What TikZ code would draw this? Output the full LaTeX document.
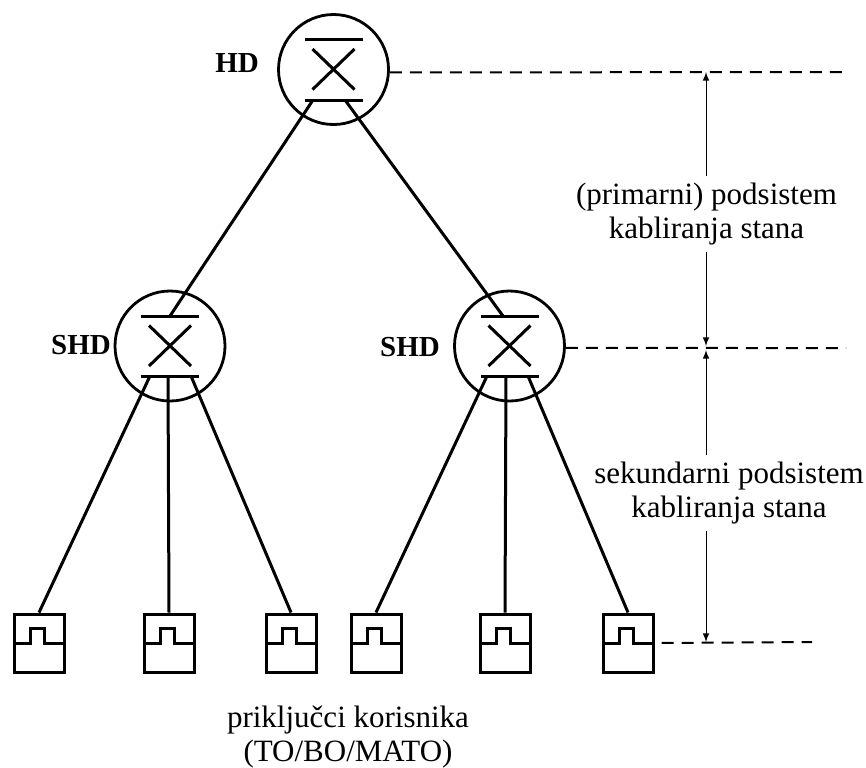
\documentclass[tikz,border=0pt]{standalone}
\usepackage{fontspec}
\setmainfont{Liberation Serif}
\begin{document}
\begin{tikzpicture}
                        [x=0.5pt,y=-0.5pt,>=latex,
                        hub/.style={circle,draw,line width=1.4pt,inner sep=0pt,minimum size=55pt},
                        socket/.style={rectangle,draw,line width=1.5pt,inner sep=0pt,minimum width=25pt,minimum height=29pt},
                        wire/.style={line width=1.5pt},
                        level/.style={dashed,dash pattern=on 6pt off 4pt,line width=1pt},
                        dim/.style={->,line width=0.5pt},
                        hubname/.style={font=\fontsize{14.5}{16}\selectfont\bfseries},
                        caption/.style={align=center,font=\fontsize{15.5}{17}\selectfont}]
                        \useasboundingbox (0,0) rectangle (866,767);
                        \node[hub] (hd) at (333.5,69.5) {};
                        \node[hub] (shda) at (170,346) {};
                        \node[hub] (shdb) at (509.5,346) {};
                        \node[socket] (s1) at (39,643) {};
                        \node[socket] (s2) at (169,643) {};
                        \node[socket] (s3) at (291,643) {};
                        \node[socket] (s4) at (376,643) {};
                        \node[socket] (s5) at (505,643) {};
                        \node[socket] (s6) at (628,643) {};
                        \node[hubname] (hdname) at (237,63) {HD};
                        \node[hubname] (shdaname) at (81,345) {SHD};
                        \node[hubname] (shdbname) at (410,347) {SHD};
                        \node[caption] (prim) at (706.5,214) {(primarni) podsistem\\kabliranja stana};
                        \node[caption] (sek) at (729,493) {sekundarni podsistem\\kabliranja stana};
                        \node[caption] (users) at (348,736.5) {priključci korisnika\\(TO/BO/MATO)};
                        % cross and two bars in each hub
                        \foreach \h in {hd,shda,shdb}
                        {
                        \draw[wire] ([shift={(-29,-30)}]\h.center) -- ([shift={(29,-30)}]\h.center);
                        \draw[wire] ([shift={(-29,30.5)}]\h.center) -- ([shift={(29,30.5)}]\h.center);
                        \draw[wire] ([shift={(-21,-20.5)}]\h.center) -- ([shift={(21,20)}]\h.center);
                        \draw[wire] ([shift={(21,-20.5)}]\h.center) -- ([shift={(-21,20)}]\h.center);
                        }
                        % socket step
                        \foreach \s in {s1,s2,s3,s4,s5,s6}
                        \draw[wire] (\s.west) -- ++(18,0) -- ++(0,-15) -- ++(14,0) -- ++(0,15) -- (\s.east);
                        \coordinate (hdl) at (313,100);
                        \coordinate (hdr) at (345,100);
                        \coordinate (shdatop) at (170,316);
                        \coordinate (shdbtop) at (503,316);
                        \coordinate (shda1) at (150,376);
                        \coordinate (shda2) at (168,376);
                        \coordinate (shda3) at (191,376);
                        \coordinate (shdb1) at (487,376);
                        \coordinate (shdb2) at (506,376);
                        \coordinate (shdb3) at (528,376);
                        \foreach \from/\to in {hdl/shdatop,hdr/shdbtop,shda1/s1.north,shda2/s2.north,shda3/s3.north,shdb1/s4.north,shdb2/s5.north,shdb3/s6.north}
                        \draw[wire] (\from) -- (\to);
                        % levels on the right
                        \coordinate (hdend) at (848,72);
                        \coordinate (shdend) at (846,348);
                        \coordinate (send) at (812,642);
                        \draw[level] (hd.-3) -- (hdend);
                        \draw[level] (shdb.-2) -- (shdend);
                        \draw[level,shorten <=3.5pt] (s6.east) -- (send);
                        \coordinate (m1) at (706,72);
                        \coordinate (m2) at (706,346);
                        \coordinate (m3) at (706,350);
                        \coordinate (m4) at (706,642);
                        \draw[dim] (prim.north -| m1) -- (m1);
                        \draw[dim] (prim.south -| m1) -- (m2);
                        \draw[dim] (sek.north -| m1) -- (m3);
                        \draw[dim] (sek.south -| m1) -- (m4);
                    \end{tikzpicture}
\end{document}
